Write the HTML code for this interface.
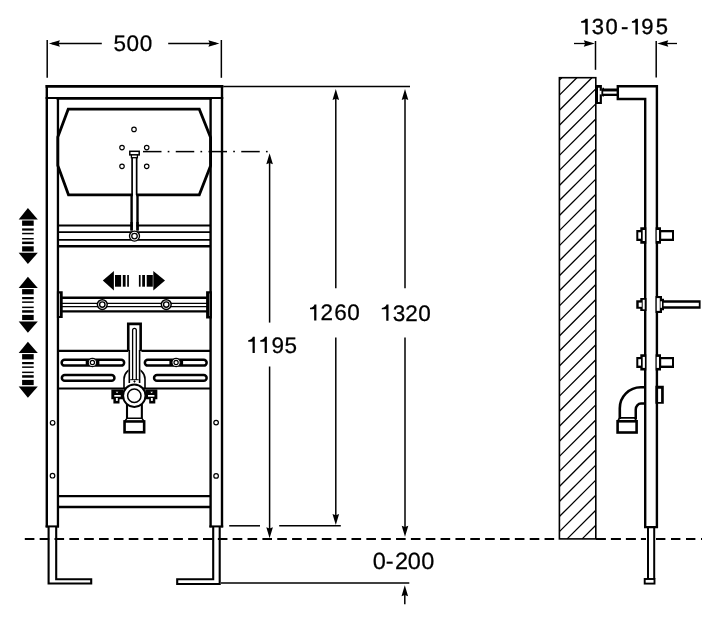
<!DOCTYPE html>
<html><head><meta charset="utf-8"><style>
html,body{margin:0;padding:0;background:#fff;}
svg{display:block;will-change:transform;}
text{font-family:"Liberation Sans",sans-serif;fill:#000;text-rendering:geometricPrecision;}
</style></head><body>
<svg width="720" height="625" viewBox="0 0 720 625">
<rect width="720" height="625" fill="#fff"/>
<g stroke="#000" fill="none">
<line x1="47.2" y1="40.0" x2="47.2" y2="77.8" stroke-width="1.5" />
<line x1="221.35" y1="40.0" x2="221.35" y2="77.8" stroke-width="1.5" />
<line x1="52" y1="43.5" x2="101.8" y2="43.5" stroke-width="1.3" />
<path d="M48.9,43.5 L59.9,40.2 L58.6,43.5 L59.9,46.8 Z" stroke="none" fill="#000"/>
<line x1="168.2" y1="43.5" x2="216" y2="43.5" stroke-width="1.3" />
<path d="M219.4,43.5 L208.4,40.2 L209.70000000000002,43.5 L208.4,46.8 Z" stroke="none" fill="#000"/>
<line x1="45.6" y1="86.45" x2="223.3" y2="86.45" stroke-width="2.7" />
<line x1="46.8" y1="85.1" x2="46.8" y2="527.4" stroke-width="2.4" />
<line x1="222.0" y1="85.1" x2="222.0" y2="527.4" stroke-width="2.4" />
<line x1="57.95" y1="97.5" x2="57.95" y2="527.4" stroke-width="2.3" />
<line x1="210.6" y1="97.5" x2="210.6" y2="527.4" stroke-width="2.4" />
<line x1="45.6" y1="98.0" x2="223.3" y2="98.0" stroke-width="1.8" />
<line x1="56.6" y1="98.6" x2="211.8" y2="98.6" stroke-width="2.2" />
<line x1="45.6" y1="526.4" x2="59.0" y2="526.4" stroke-width="2.0" />
<line x1="209.4" y1="526.4" x2="223.2" y2="526.4" stroke-width="2.0" />
<path d="M68.2,109.2 L199.3,109.2 L210.6,137.5 L210.6,165.8 L199.3,194.85 L68.5,194.85 L57.8,165.5 L57.8,137.0 Z" stroke-width="2.8" fill="none" />
<circle cx="134" cy="129.4" r="2.25" stroke-width="1.15" fill="#fff"/>
<circle cx="122" cy="147.6" r="2.25" stroke-width="1.15" fill="#fff"/>
<circle cx="146.7" cy="147.6" r="2.25" stroke-width="1.15" fill="#fff"/>
<circle cx="122" cy="166.3" r="2.25" stroke-width="1.15" fill="#fff"/>
<circle cx="146.7" cy="166.3" r="2.25" stroke-width="1.15" fill="#fff"/>
<rect x="132.9" y="157" width="3.3" height="73" fill="#fff" stroke="none"/>
<line x1="132.1" y1="157.7" x2="132.1" y2="195" stroke-width="1.7" />
<line x1="136.65" y1="157.7" x2="136.65" y2="195" stroke-width="1.7" />
<line x1="131.6" y1="194.5" x2="131.6" y2="230.5" stroke-width="2.4" />
<line x1="137.5" y1="194.5" x2="137.5" y2="230.5" stroke-width="2.4" />
<rect x="129.8" y="151.3" width="9.4" height="3.6" rx="0" stroke-width="1.5" fill="#fff"/>
<rect x="131.4" y="154.9" width="6.0" height="2.8" rx="0" stroke-width="1.3" fill="#fff"/>
<line x1="143.0" y1="151.6" x2="161.5" y2="151.6" stroke-width="1.5" />
<line x1="167.7" y1="151.6" x2="169.39999999999998" y2="151.6" stroke-width="1.5" />
<line x1="175.74999999999997" y1="151.6" x2="194.24999999999997" y2="151.6" stroke-width="1.5" />
<line x1="200.44999999999996" y1="151.6" x2="202.14999999999995" y2="151.6" stroke-width="1.5" />
<line x1="208.49999999999994" y1="151.6" x2="226.99999999999994" y2="151.6" stroke-width="1.5" />
<line x1="233.19999999999993" y1="151.6" x2="234.89999999999992" y2="151.6" stroke-width="1.5" />
<line x1="241.24999999999991" y1="151.6" x2="259.7499999999999" y2="151.6" stroke-width="1.5" />
<line x1="265.9499999999999" y1="151.6" x2="267.64999999999986" y2="151.6" stroke-width="1.5" />
<line x1="57.6" y1="225.55" x2="210.6" y2="225.55" stroke-width="2.0" />
<line x1="57.6" y1="232.15" x2="210.6" y2="232.15" stroke-width="1.7" />
<line x1="57.6" y1="239.85" x2="210.6" y2="239.85" stroke-width="1.7" />
<line x1="57.6" y1="246.2" x2="210.6" y2="246.2" stroke-width="2.4" />
<rect x="132.9" y="224" width="3.3" height="6" fill="#fff" stroke="none"/>
<line x1="131.6" y1="222" x2="131.6" y2="230.5" stroke-width="2.4" />
<line x1="137.5" y1="222" x2="137.5" y2="230.5" stroke-width="2.4" />
<circle cx="134.5" cy="236.1" r="5.0" stroke-width="1.35" fill="#fff"/>
<circle cx="134.5" cy="236.1" r="2.75" stroke-width="1.3" fill="#fff"/>
<path d="M102.8,280.6 L113.9,271.1 L113.9,290.6 Z" stroke="none" fill="#000"/>
<path d="M115,275 H121.1 V286.7 H115 Z" stroke="none" fill="#000"/>
<path d="M122.8,275 H125.6 V286.7 H122.8 Z" stroke="none" fill="#000"/>
<path d="M127.2,275 H128.9 V286.7 H127.2 Z" stroke="none" fill="#000"/>
<path d="M138.9,275 H140.6 V286.7 H138.9 Z" stroke="none" fill="#000"/>
<path d="M142.2,275 H145 V286.7 H142.2 Z" stroke="none" fill="#000"/>
<path d="M146.7,275 H152.8 V286.7 H146.7 Z" stroke="none" fill="#000"/>
<path d="M165,280.6 L153.3,271.1 L153.3,290.6 Z" stroke="none" fill="#000"/>
<line x1="60" y1="297.7" x2="208" y2="297.7" stroke-width="2.4" />
<line x1="60" y1="303.3" x2="208" y2="303.3" stroke-width="1.15" />
<line x1="60" y1="306.6" x2="208" y2="306.6" stroke-width="1.15" />
<line x1="60" y1="311.3" x2="208" y2="311.3" stroke-width="2.3" />
<path d="M56.9,291.2 H62.7 V318.1 H56.9 Z M58.2,293.5 V316 H59.8 V293.5 Z" stroke="none" fill="#000"/>
<path d="M206.1,291.2 H211.9 V318.4 H206.1 Z M209.0,293.5 V316 H210.8 V293.5 Z" stroke="none" fill="#000"/>
<circle cx="102.3" cy="304.6" r="4.9" stroke-width="1.45" fill="#fff"/>
<circle cx="102.3" cy="304.6" r="2.7" stroke-width="1.4" fill="#fff"/>
<circle cx="166.25" cy="304.6" r="4.9" stroke-width="1.45" fill="#fff"/>
<circle cx="166.25" cy="304.6" r="2.7" stroke-width="1.4" fill="#fff"/>
<line x1="57.6" y1="350.8" x2="128.4" y2="350.8" stroke-width="2.2" />
<line x1="141.4" y1="350.8" x2="210.6" y2="350.8" stroke-width="2.2" />
<line x1="57.6" y1="388.5" x2="210.6" y2="388.5" stroke-width="2.2" />
<rect x="61.65" y="359.85" width="62.5" height="5.75" rx="2.9" stroke-width="2.5" fill="#fff"/>
<rect x="144.85" y="359.85" width="61.8" height="5.75" rx="2.9" stroke-width="2.5" fill="#fff"/>
<rect x="61.85" y="375.0" width="52.6" height="5.8" rx="2.9" stroke-width="2.5" fill="#fff"/>
<rect x="154.05" y="375.0" width="52.6" height="5.8" rx="2.9" stroke-width="2.5" fill="#fff"/>
<path d="M85.7,360 H99.4 V365.3 H85.7 Z" stroke="none" fill="#000"/>
<circle cx="92.4" cy="362.5" r="4.15" stroke-width="1.1" fill="#fff"/>
<circle cx="92.4" cy="362.5" r="2.1" stroke-width="1.2" fill="#fff"/>
<path d="M169.4,360 H183.1 V365.3 H169.4 Z" stroke="none" fill="#000"/>
<circle cx="176.1" cy="362.5" r="4.15" stroke-width="1.1" fill="#fff"/>
<circle cx="176.1" cy="362.5" r="2.1" stroke-width="1.2" fill="#fff"/>
<path d="M124.0,388.5 L124.0,379 A10.5,10.5 0 0 1 145.0,379 L145.0,388.5" stroke-width="1.6" fill="none" />
<rect x="128.5" y="324" width="12" height="59" fill="#fff" stroke="none"/>
<path d="M128.25,351 L128.25,323.9 L140.65,323.9 L140.65,351" stroke-width="2.6" fill="none" />
<line x1="129.3" y1="350" x2="129.3" y2="383" stroke-width="1.6" />
<line x1="139.6" y1="350" x2="139.6" y2="383" stroke-width="1.6" />
<path d="M132.6,380 L132.6,330.2 A1.85,1.85 0 0 1 136.3,330.2 L136.3,380" stroke-width="1.3" fill="none" />
<line x1="130.2" y1="379.7" x2="138.7" y2="379.7" stroke-width="1.0" />
<circle cx="134.5" cy="381.5" r="0.7" stroke-width="0.8" fill="#000"/>
<path d="M111.35,389.5 L123.35,389.5 L123.35,399.2 L119.5,399.2 L119.5,403.6 L113.39999999999999,403.6 L113.39999999999999,399.2 L111.35,399.2 Z" stroke="none" fill="#000"/>
<rect x="114.3" y="395.0" width="6.4" height="1.7" fill="#fff" stroke="none"/>
<rect x="115.89999999999999" y="398.0" width="1.9" height="2.9" fill="#fff" stroke="none"/>
<path d="M115.69999999999999,391.8 L118.39999999999999,391.8 L117.05,393.3 Z" fill="#fff" stroke="none"/>
<path d="M157.35,389.5 L145.35,389.5 L145.35,399.2 L149.2,399.2 L149.2,403.6 L155.29999999999998,403.6 L155.29999999999998,399.2 L157.35,399.2 Z" stroke="none" fill="#000"/>
<rect x="148.0" y="395.0" width="6.4" height="1.7" fill="#fff" stroke="none"/>
<rect x="150.9" y="398.0" width="1.9" height="2.9" fill="#fff" stroke="none"/>
<path d="M153.0,391.8 L150.29999999999998,391.8 L151.65,393.3 Z" fill="#fff" stroke="none"/>
<circle cx="134.3" cy="395.7" r="11.2" stroke-width="2.0" fill="#fff"/>
<circle cx="134.3" cy="395.7" r="6.7" stroke-width="1.5" fill="#fff"/>
<line x1="127.0" y1="404" x2="127.0" y2="418.5" stroke-width="2.1" />
<line x1="141.85" y1="404" x2="141.85" y2="418.5" stroke-width="2.1" />
<path d="M124.6,421.5 L127,418.3 H141.9 L144.2,421.5" stroke-width="1.4" fill="none" />
<rect x="124.55" y="421.45" width="19.6" height="10.8" rx="0" stroke-width="2.6" fill="#fff"/>
<circle cx="52.6" cy="422.8" r="2.3" stroke-width="1.2" fill="#fff"/>
<circle cx="52.5" cy="475.7" r="2.3" stroke-width="1.2" fill="#fff"/>
<circle cx="216.1" cy="422.6" r="2.3" stroke-width="1.2" fill="#fff"/>
<circle cx="216.1" cy="475.9" r="2.3" stroke-width="1.2" fill="#fff"/>
<line x1="57.6" y1="496.2" x2="210.6" y2="496.2" stroke-width="2.3" />
<line x1="57.6" y1="507.0" x2="210.6" y2="507.0" stroke-width="2.3" />
<path d="M48.6,527 L48.6,583.5 L91.2,583.5 L91.2,579.2 L56.2,579.2 L56.2,527" stroke-width="2.1" fill="none" />
<path d="M219.7,527 L219.7,584 L177.2,584 L177.2,579.3 L213.2,579.3 L213.2,527" stroke-width="2.1" fill="none" />
<path d="M27.9,208.1 L18.7,219.4 L37.8,219.4 Z" stroke="none" fill="#000"/>
<path d="M22.1,220.5 H33.7 V225.79999999999998 H22.1 Z" stroke="none" fill="#000"/>
<path d="M22.1,228.4 H33.7 V230.6 H22.1 Z" stroke="none" fill="#000"/>
<path d="M22.1,232.79999999999998 H33.7 V234.29999999999998 H22.1 Z" stroke="none" fill="#000"/>
<path d="M22.1,238.0 H33.7 V239.5 H22.1 Z" stroke="none" fill="#000"/>
<path d="M22.1,241.6 H33.7 V244.1 H22.1 Z" stroke="none" fill="#000"/>
<path d="M22.1,246.3 H33.7 V251.5 H22.1 Z" stroke="none" fill="#000"/>
<path d="M27.9,264.1 L18.7,252.8 L37.8,252.8 Z" stroke="none" fill="#000"/>
<path d="M27.9,276.7 L18.7,288.0 L37.8,288.0 Z" stroke="none" fill="#000"/>
<path d="M22.1,289.09999999999997 H33.7 V294.4 H22.1 Z" stroke="none" fill="#000"/>
<path d="M22.1,297.0 H33.7 V299.2 H22.1 Z" stroke="none" fill="#000"/>
<path d="M22.1,301.4 H33.7 V302.9 H22.1 Z" stroke="none" fill="#000"/>
<path d="M22.1,306.59999999999997 H33.7 V308.09999999999997 H22.1 Z" stroke="none" fill="#000"/>
<path d="M22.1,310.2 H33.7 V312.7 H22.1 Z" stroke="none" fill="#000"/>
<path d="M22.1,314.9 H33.7 V320.09999999999997 H22.1 Z" stroke="none" fill="#000"/>
<path d="M27.9,332.7 L18.7,321.4 L37.8,321.4 Z" stroke="none" fill="#000"/>
<path d="M27.9,341.7 L18.7,353.0 L37.8,353.0 Z" stroke="none" fill="#000"/>
<path d="M22.1,354.09999999999997 H33.7 V359.4 H22.1 Z" stroke="none" fill="#000"/>
<path d="M22.1,362.0 H33.7 V364.2 H22.1 Z" stroke="none" fill="#000"/>
<path d="M22.1,366.4 H33.7 V367.9 H22.1 Z" stroke="none" fill="#000"/>
<path d="M22.1,371.59999999999997 H33.7 V373.09999999999997 H22.1 Z" stroke="none" fill="#000"/>
<path d="M22.1,375.2 H33.7 V377.7 H22.1 Z" stroke="none" fill="#000"/>
<path d="M22.1,379.9 H33.7 V385.09999999999997 H22.1 Z" stroke="none" fill="#000"/>
<path d="M27.9,397.7 L18.7,386.4 L37.8,386.4 Z" stroke="none" fill="#000"/>
<line x1="223.3" y1="86.6" x2="410" y2="86.6" stroke-width="1.5" />
<line x1="269.6" y1="160" x2="269.6" y2="322.6" stroke-width="1.5" />
<path d="M269.6,153.2 L266.3,164.2 L269.6,162.89999999999998 L272.90000000000003,164.2 Z" stroke="none" fill="#000"/>
<line x1="269.6" y1="366.5" x2="269.6" y2="530" stroke-width="1.5" />
<path d="M269.6,538.3 L266.3,527.3 L269.6,528.5999999999999 L272.90000000000003,527.3 Z" stroke="none" fill="#000"/>
<line x1="335.8" y1="96" x2="335.8" y2="288.2" stroke-width="1.5" />
<path d="M335.8,89 L332.5,100.0 L335.8,98.7 L339.1,100.0 Z" stroke="none" fill="#000"/>
<line x1="335.8" y1="337.4" x2="335.8" y2="517" stroke-width="1.5" />
<path d="M335.8,525 L332.5,514.0 L335.8,515.3 L339.1,514.0 Z" stroke="none" fill="#000"/>
<line x1="405.0" y1="96" x2="405.0" y2="288.2" stroke-width="1.5" />
<path d="M405.0,89 L401.7,100.0 L405.0,98.7 L408.3,100.0 Z" stroke="none" fill="#000"/>
<line x1="405.0" y1="337.4" x2="405.0" y2="529" stroke-width="1.5" />
<path d="M405.0,536.8 L401.7,525.8 L405.0,527.0999999999999 L408.3,525.8 Z" stroke="none" fill="#000"/>
<line x1="229.2" y1="525.8" x2="260" y2="525.8" stroke-width="1.5" />
<line x1="279.2" y1="525.8" x2="340.8" y2="525.8" stroke-width="1.5" />
<line x1="221" y1="583.1" x2="409.3" y2="583.1" stroke-width="1.5" />
<line x1="404.8" y1="592" x2="404.8" y2="604.3" stroke-width="1.5" />
<path d="M404.8,585.2 L401.5,596.2 L404.8,594.9000000000001 L408.1,596.2 Z" stroke="none" fill="#000"/>
<line x1="24.8" y1="539.1" x2="556" y2="539.1" stroke-width="2" stroke-dasharray="9.6 5.25"/>
<line x1="595.9" y1="539.1" x2="646" y2="539.1" stroke-width="2" stroke-dasharray="10 5"/>
<line x1="656" y1="539.1" x2="702" y2="539.1" stroke-width="2" stroke-dasharray="9.4 5.6 9.4 5.6 9.4 5.6 1.5 100"/>
<path d="M559.40,80.10 L561.80,77.70 M559.40,95.15 L576.85,77.70 M559.40,110.20 L591.90,77.70 M559.40,125.25 L595.80,88.85 M559.40,140.30 L595.80,103.90 M559.40,155.35 L595.80,118.95 M559.40,170.40 L595.80,134.00 M559.40,185.45 L595.80,149.05 M559.40,200.50 L595.80,164.10 M559.40,215.55 L595.80,179.15 M559.40,230.60 L595.80,194.20 M559.40,245.65 L595.80,209.25 M559.40,260.70 L595.80,224.30 M559.40,275.75 L595.80,239.35 M559.40,290.80 L595.80,254.40 M559.40,305.85 L595.80,269.45 M559.40,320.90 L595.80,284.50 M559.40,335.95 L595.80,299.55 M559.40,351.00 L595.80,314.60 M559.40,366.05 L595.80,329.65 M559.40,381.10 L595.80,344.70 M559.40,396.15 L595.80,359.75 M559.40,411.20 L595.80,374.80 M559.40,426.25 L595.80,389.85 M559.40,441.30 L595.80,404.90 M559.40,456.35 L595.80,419.95 M559.40,471.40 L595.80,435.00 M559.40,486.45 L595.80,450.05 M559.40,501.50 L595.80,465.10 M559.40,516.55 L595.80,480.15 M559.40,531.60 L595.80,495.20 M595.80,510.25 L567.15,538.90 M595.80,525.30 L582.20,538.90" stroke-width="1.3" fill="none" />
<rect x="559.4" y="77.7" width="36.4" height="461.2" rx="0" stroke-width="1.6" fill="none"/>
<line x1="595.5" y1="41.0" x2="595.5" y2="69.8" stroke-width="1.5" />
<line x1="656.2" y1="41.0" x2="656.2" y2="77.6" stroke-width="1.5" />
<line x1="574" y1="43.5" x2="586" y2="43.5" stroke-width="1.3" />
<path d="M594.8,43.5 L583.8,40.2 L585.0999999999999,43.5 L583.8,46.8 Z" stroke="none" fill="#000"/>
<line x1="665" y1="43.5" x2="677" y2="43.5" stroke-width="1.3" />
<path d="M657.3,43.5 L668.3,40.2 L667.0,43.5 L668.3,46.8 Z" stroke="none" fill="#000"/>
<path d="M595.6,85 H601.9 V104 H595.6 Z M598,87.7 V102.1 H599.7 V87.7 Z" stroke="none" fill="#000"/>
<rect x="599.2" y="90.8" width="2.2" height="3.6" fill="#fff" stroke="none"/>
<path d="M601.9,88.4 H618.5 V95.9 H601.9 Z M602.5,87.8 H604 V96.6 H602.5 Z" stroke="none" fill="#000"/>
<rect x="603.2" y="91.45" width="14.2" height="2.25" fill="#fff" stroke="none"/>
<path d="M617.8,96 L617.8,86.2 L656.9,86.2 L656.9,527.1 L645.2,527.1 L645.2,99 L617.8,99 Z" stroke-width="2.4" fill="none" />
<path d="M636.3,230.0 H640.3 V227.3 H646.3 V243.7 H640.3 V241.0 H636.3 Z" stroke="none" fill="#000"/>
<rect x="638.3" y="232.3" width="2.7" height="6.4" fill="#fff" stroke="none"/>
<rect x="642.7" y="230.0" width="2.2" height="11.0" fill="#fff" stroke="none"/>
<path d="M655.6,227.3 H661.0 V230.0 H674.0 V241.0 H661.0 V243.7 H655.6 Z" stroke="none" fill="#000"/>
<rect x="656.7" y="230.0" width="2.3" height="11.0" fill="#fff" stroke="none"/>
<rect x="661.2" y="232.3" width="10.8" height="6.4" fill="#fff" stroke="none"/>
<path d="M636.25,300.25 H640.25 V298.0 H646.5 V311.0 H640.25 V308.75 H636.25 Z" stroke="none" fill="#000"/>
<rect x="638.7" y="302.6" width="3.0" height="4.2" fill="#fff" stroke="none"/>
<rect x="642.7" y="299.8" width="2.0" height="9.5" fill="#fff" stroke="none"/>
<path d="M655.5,296.0 H662 V298.8 H664 V300.25 H700.6 V308.75 H664 V310.2 H662 V313.0 H655.5 Z" stroke="none" fill="#000"/>
<rect x="656.75" y="298.1" width="3.0" height="12.75" fill="#fff" stroke="none"/>
<rect x="660.5" y="301.3" width="1.5" height="6.5" fill="#fff" stroke="none"/>
<rect x="663.6" y="302.75" width="35.2" height="3.5" fill="#fff" stroke="none"/>
<path d="M636.3,356.9 H640.3 V354.2 H646.3 V370.59999999999997 H640.3 V367.9 H636.3 Z" stroke="none" fill="#000"/>
<rect x="638.3" y="359.2" width="2.7" height="6.4" fill="#fff" stroke="none"/>
<rect x="642.7" y="356.9" width="2.2" height="11.0" fill="#fff" stroke="none"/>
<path d="M655.6,354.2 H661.0 V356.9 H674.0 V367.9 H661.0 V370.59999999999997 H655.6 Z" stroke="none" fill="#000"/>
<rect x="656.7" y="356.9" width="2.3" height="11.0" fill="#fff" stroke="none"/>
<rect x="661.2" y="359.2" width="10.8" height="6.4" fill="#fff" stroke="none"/>
<path d="M655.4,385.8 H663.8 V403.8 H655.4 Z M656.6,388.7 V401.9 H661.1 V388.7 Z" stroke="none" fill="#000"/>
<path d="M645,387.2 H640.8 A21,21 0 0 0 619.8,408.2 V419" stroke-width="2.6" fill="none" />
<path d="M645,403.6 H641 A5.25,5.8 0 0 0 635.75,409.4 V419" stroke-width="2.5" fill="none" />
<path d="M617.5,421.2 L619.8,417.9 H634.5 L636.8,421.2" stroke-width="1.6" fill="none" />
<rect x="617.6" y="421.3" width="19.0" height="11.2" rx="0" stroke-width="2.6" fill="#fff"/>
<line x1="648.0" y1="527" x2="648.0" y2="579" stroke-width="2.0" />
<line x1="654.2" y1="527" x2="654.2" y2="579" stroke-width="2.0" />
<rect x="644.7" y="579.0" width="9.8" height="4.6" rx="0" stroke-width="1.9" fill="#fff"/>
</g>
<text x="113.45 126.45 139.65" y="51.1" font-size="22.5" stroke="#000" stroke-width="0.25">500</text>
<path d="M314.15,320.59999999999997 V309.00 C312.95,309.30 311.00,309.30 310.00,309.30 V307.80 C312.60,307.40 313.95,306.40 314.45,304.40 H316.40 V320.59999999999997 Z" fill="#000"/>
<text x="320.55 334.25 347.15" y="320.4" font-size="22.5" stroke="#000" stroke-width="0.25">260</text>
<path d="M386.25,320.8 V309.10 C385.05,309.40 382.80,309.40 381.80,309.40 V307.90 C384.40,307.50 386.05,306.50 386.55,304.50 H388.50 V320.8 Z" fill="#000"/>
<text x="392.75 405.25 418.15" y="320.6" font-size="22.5" stroke="#000" stroke-width="0.25">320</text>
<path d="M252.55,352.9 V341.40 C251.35,341.70 249.20,341.70 248.20,341.70 V340.20 C250.80,339.80 252.35,338.80 252.85,336.80 H254.80 V352.9 Z" fill="#000"/>
<path d="M264.65,352.9 V341.40 C263.45,341.70 261.25,341.70 260.25,341.70 V340.20 C262.85,339.80 264.45,338.80 264.95,336.80 H266.90 V352.9 Z" fill="#000"/>
<text x="271.60 284.55" y="352.7" font-size="22.5" stroke="#000" stroke-width="0.25">95</text>
<text x="372.75 385.85 395.05 407.75 421.35" y="568.8" font-size="23.5" stroke="#000" stroke-width="0.25">0-200</text>
<path d="M585.25,34.400000000000006 V22.50 C584.05,22.80 582.10,22.80 581.10,22.80 V21.20 C583.70,20.80 585.05,19.80 585.55,18.80 H587.75 V34.400000000000006 Z" fill="#000"/>
<path d="M635.40,34.400000000000006 V22.50 C634.20,22.80 632.90,22.80 631.90,22.80 V21.20 C634.50,20.80 635.20,19.80 635.70,18.80 H637.90 V34.400000000000006 Z" fill="#000"/>
<text x="591.65 605.45 621.05 641.25 655.85" y="34.2" font-size="22" stroke="#000" stroke-width="0.35">30-95</text>
</svg>
</body></html>
